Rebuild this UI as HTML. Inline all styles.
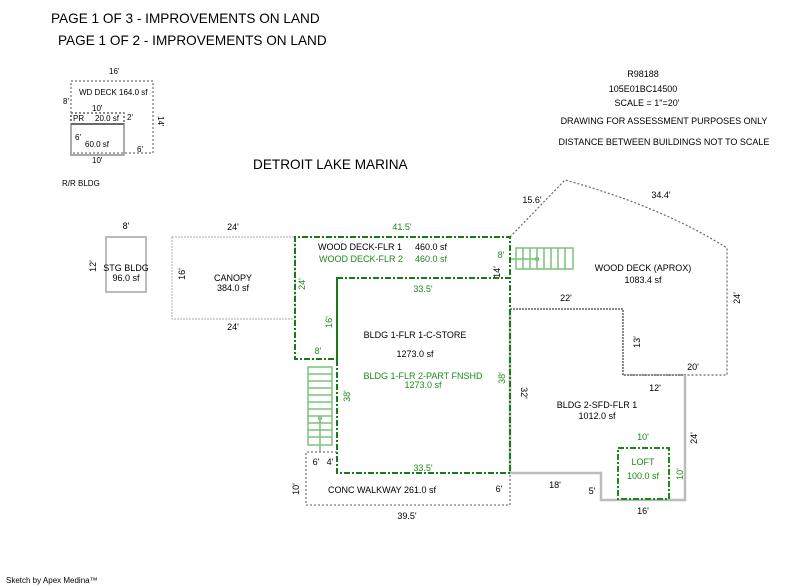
<!DOCTYPE html>
<html><head><style>
html,body{margin:0;padding:0;background:#fff;}
svg{display:block;font-family:"Liberation Sans",Arial,sans-serif;}
</style></head><body>
<svg width="800" height="587" viewBox="0 0 800 587" xmlns="http://www.w3.org/2000/svg">
<g font-size="13.6" fill="#000">
<text x="51" y="23">PAGE 1 OF 3 - IMPROVEMENTS ON LAND</text>
<text x="58" y="45">PAGE 1 OF 2 - IMPROVEMENTS ON LAND</text>
<text x="253" y="169">DETROIT LAKE MARINA</text>
</g>
<g font-size="9" fill="#000" text-anchor="middle">
<text x="643" y="77">R98188</text>
<text x="643" y="92">105E01BC14500</text>
<text x="647" y="106">SCALE = 1"=20'</text>
<text x="664" y="124">DRAWING FOR ASSESSMENT PURPOSES ONLY</text>
<text x="664" y="145">DISTANCE BETWEEN BUILDINGS NOT TO SCALE</text>
</g>
<text x="6" y="583" font-size="8">Sketch by Apex Medina™</text>

<!-- R/R BLDG -->
<g fill="none">
<rect x="71" y="81" width="82" height="72" stroke="#888" stroke-width="1.5" stroke-dasharray="2,2"/>
<rect x="71" y="113" width="53" height="11" stroke="#666" stroke-width="1.5" stroke-dasharray="2,2"/>
<rect x="71" y="124" width="53" height="31" stroke="#aaa" stroke-width="2"/>
<line x1="71" y1="124" x2="124" y2="124" stroke="#555" stroke-width="1.5"/>
</g>
<g font-size="8" fill="#000">
<text x="109" y="74">16'</text>
<text x="79" y="95">WD DECK 164.0 sf</text>
<text x="63" y="104">8'</text>
<text x="92" y="111">10'</text>
<text x="73" y="121">PR</text><text x="95" y="121">20.0 sf</text>
<text x="127" y="120">2'</text>
<text x="75" y="140">6'</text>
<text x="85" y="147">60.0 sf</text>
<text x="92" y="163">10'</text>
<text x="137" y="152">6'</text>
<text x="62" y="186">R/R BLDG</text>
<text transform="translate(158,116) rotate(90)">14'</text>
</g>

<!-- STG BLDG -->
<rect x="106" y="237" width="40" height="55" fill="none" stroke="#bbb" stroke-width="2"/>
<g font-size="9" fill="#000" text-anchor="middle">
<text x="126" y="229">8'</text>
<text x="126" y="271">STG BLDG</text>
<text x="126" y="281">96.0 sf</text>
<text transform="translate(96,266) rotate(-90)">12'</text>
</g>

<!-- CANOPY -->
<rect x="172" y="237" width="123" height="82" fill="none" stroke="#bbb" stroke-width="1.2" stroke-dasharray="2,1"/>
<g font-size="9" fill="#000" text-anchor="middle">
<text x="233" y="230">24'</text>
<text x="233" y="281">CANOPY</text>
<text x="233" y="291">384.0 sf</text>
<text x="233" y="330">24'</text>
<text transform="translate(185,274) rotate(-90)">16'</text>
</g>

<!-- WOOD DECK right polygon -->
<path d="M510,237 L565,180 Q660,206 727,248 L727,375 L622,375" fill="none" stroke="#666" stroke-width="1.2" stroke-dasharray="2,2"/>
<polyline points="510,309 623,309 623,375 686,375" fill="none" stroke="#888" stroke-width="2" stroke-dasharray="2,1"/>
<g font-size="9" fill="#000" text-anchor="middle">
<text x="532" y="203">15.6'</text>
<text x="661" y="198">34.4'</text>
<text x="643" y="271">WOOD DECK (APROX)</text>
<text x="643" y="283">1083.4 sf</text>
<text x="566" y="301">22'</text>
<text x="693" y="370">20'</text>
<text transform="translate(640,342) rotate(-90)">13'</text>
<text transform="translate(740,298) rotate(-90)">24'</text>
</g>

<!-- BLDG 2 -->
<polyline points="510,309 510,473 601,473 601,500 685,500 685,375" fill="none" stroke="#bbb" stroke-width="2.5"/>
<g font-size="9" fill="#000" text-anchor="middle">
<text x="597" y="408">BLDG 2-SFD-FLR 1</text>
<text x="597" y="419">1012.0 sf</text>
<text x="655" y="391">12'</text>
<text x="555" y="488">18'</text>
<text x="592" y="494">5'</text>
<text x="643" y="514">16'</text>
<text transform="translate(697,438) rotate(-90)">24'</text>
<text transform="translate(521,393) rotate(90)">32'</text>
</g>
<!-- LOFT -->
<rect x="618" y="448" width="51" height="51" fill="none" stroke="#1a8a1a" stroke-width="2" stroke-dasharray="6,2,2,2"/>
<g font-size="9" fill="#1a8a1a" text-anchor="middle">
<text x="643" y="440">10'</text>
<text x="643" y="465">LOFT</text>
<text x="643" y="479">100.0 sf</text>
<text transform="translate(683,474) rotate(-90)">10'</text>
</g>

<!-- CONC WALKWAY -->
<polyline points="337,452 306,452 306,505 510,505 510,473" fill="none" stroke="#777" stroke-width="1.3" stroke-dasharray="2,2"/>
<g font-size="9" fill="#000" text-anchor="middle">
<text x="382" y="493">CONC WALKWAY  261.0 sf</text>
<text x="499" y="492">6'</text>
<text x="407" y="519">39.5'</text>
<text x="316" y="465">6'</text>
<text x="330" y="465">4'</text>
<text transform="translate(299,489) rotate(-90)">10'</text>
</g>

<!-- WOOD DECK L -->
<polyline points="337,278 337,359 295,359 295,237 510,237 510,278" fill="none" stroke="#1a7a1a" stroke-width="2" stroke-dasharray="6,2,2,2"/>
<g font-size="9" text-anchor="middle">
<text x="402" y="230" fill="#1a8a1a">41.5'</text>
<text x="360" y="250" fill="#000">WOOD DECK-FLR 1</text><text x="431" y="250" fill="#000">460.0 sf</text>
<text x="361" y="262" fill="#1a8a1a">WOOD DECK-FLR 2</text><text x="431" y="262" fill="#1a8a1a">460.0 sf</text>
<text x="501" y="258" fill="#1a8a1a">8'</text>
<text x="318" y="354" fill="#1a8a1a">8'</text>
<text transform="translate(305,284) rotate(-90)" fill="#1a8a1a">24'</text>
<text transform="translate(332,322) rotate(-90)" fill="#1a8a1a">16'</text>
<text transform="translate(500,272) rotate(-90)" fill="#000">14'</text>
</g>

<!-- BLDG 1 -->
<rect x="337" y="278" width="173" height="195" fill="none" stroke="#1a7a1a" stroke-width="2" stroke-dasharray="6,2,2,2"/>
<g font-size="9" text-anchor="middle">
<text x="423" y="292" fill="#1a8a1a">33.5'</text>
<text x="415" y="338" fill="#000">BLDG 1-FLR 1-C-STORE</text>
<text x="415" y="357" fill="#000">1273.0 sf</text>
<text x="423" y="379" fill="#1a8a1a">BLDG 1-FLR 2-PART FNSHD</text>
<text x="423" y="388" fill="#1a8a1a">1273.0 sf</text>
<text x="423" y="471" fill="#1a8a1a">33.5'</text>
<text transform="translate(350,396) rotate(-90)" fill="#1a8a1a">38'</text>
<text transform="translate(505,378) rotate(-90)" fill="#1a8a1a">38'</text>
</g>

<!-- stairs left -->
<g stroke="#7cc07c" stroke-width="1.5" fill="none">
<rect x="308" y="367" width="24" height="78"/>
<line x1="308" y1="374" x2="332" y2="374"/><line x1="308" y1="381" x2="332" y2="381"/>
<line x1="308" y1="388" x2="332" y2="388"/><line x1="308" y1="395" x2="332" y2="395"/>
<line x1="308" y1="402" x2="332" y2="402"/><line x1="308" y1="409" x2="332" y2="409"/>
<line x1="308" y1="416" x2="332" y2="416"/><line x1="308" y1="423" x2="332" y2="423"/>
<line x1="308" y1="430" x2="332" y2="430"/><line x1="308" y1="437" x2="332" y2="437"/>
<line x1="320" y1="418" x2="320" y2="452"/>
<circle cx="320" cy="418" r="1.5"/>
</g>
<!-- stairs right -->
<g stroke="#7cc07c" stroke-width="1.5" fill="none">
<rect x="516" y="248" width="57" height="21"/>
<line x1="523" y1="248" x2="523" y2="269"/><line x1="530" y1="248" x2="530" y2="269"/>
<line x1="537" y1="248" x2="537" y2="269"/><line x1="544" y1="248" x2="544" y2="269"/>
<line x1="551" y1="248" x2="551" y2="269"/><line x1="558" y1="248" x2="558" y2="269"/>
<line x1="565" y1="248" x2="565" y2="269"/>
<line x1="511" y1="259" x2="537" y2="259"/>
<circle cx="537" cy="259" r="1.5"/>
</g>
</svg>
</body></html>
